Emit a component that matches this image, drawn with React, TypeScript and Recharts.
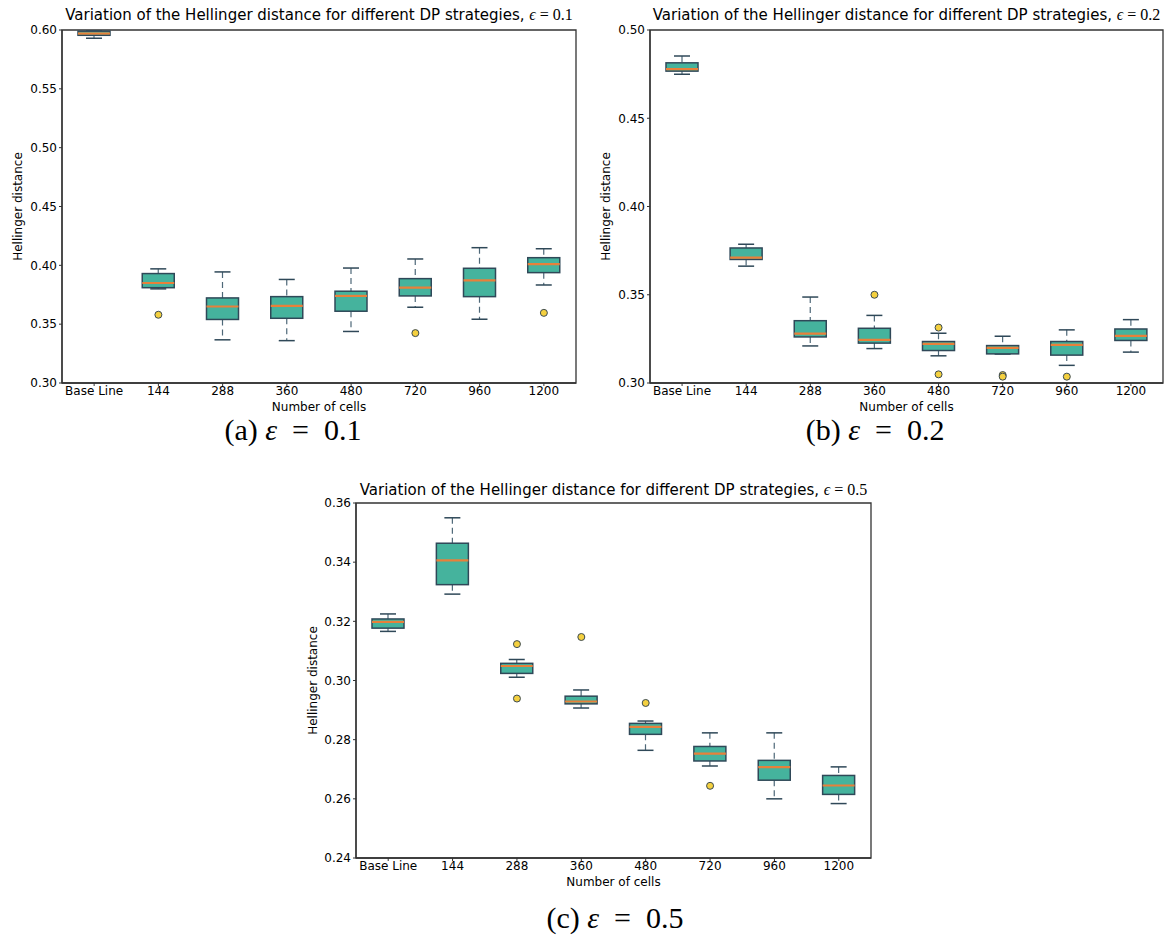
import { ComposedChart, Bar, Line, XAxis, YAxis, Label, ReferenceArea } from 'recharts'

const categories = ['Base Line', '144', '288', '360', '480', '720', '960', '1200']

// epsilon = 0.1
const lowA = [0.593, 0.38, 0.3367, 0.336, 0.3438, 0.3644, 0.3542, 0.3833]
const q1A = [0.5955, 0.381, 0.354, 0.355, 0.361, 0.374, 0.3734, 0.3938]
const medA = [0.597, 0.385, 0.365, 0.3655, 0.374, 0.381, 0.3873, 0.4011]
const q3A = [0.599, 0.393, 0.3723, 0.3734, 0.378, 0.3887, 0.3975, 0.4065]
const highA = [0.6, 0.397, 0.3944, 0.388, 0.3977, 0.4054, 0.415, 0.4141]
const outA = [[], [0.358], [], [], [], [0.3424], [], [0.3596]]
const ticksA = [0.3, 0.35, 0.4, 0.45, 0.5, 0.55, 0.6]

// epsilon = 0.2
const lowB = [0.475, 0.3662, 0.321, 0.3195, 0.3154, 0.3164, 0.31, 0.3175]
const q1B = [0.4767, 0.37, 0.3261, 0.3226, 0.3184, 0.3165, 0.3158, 0.3241]
const medB = [0.4778, 0.371, 0.328, 0.3244, 0.3222, 0.3199, 0.3216, 0.3267]
const q3B = [0.4814, 0.3765, 0.3353, 0.331, 0.3235, 0.3212, 0.3235, 0.3306]
const highB = [0.4853, 0.3786, 0.3487, 0.3383, 0.3282, 0.3265, 0.3301, 0.3359]
const outB = [[], [], [], [0.35], [0.3314, 0.3049], [0.3045, 0.3036], [0.3036], []]
const ticksB = [0.3, 0.35, 0.4, 0.45, 0.5]

// epsilon = 0.5
const lowC = [0.3166, 0.3292, 0.3011, 0.2907, 0.2764, 0.2711, 0.26, 0.2584]
const q1C = [0.3177, 0.3324, 0.3024, 0.2921, 0.2818, 0.2728, 0.2663, 0.2615]
const medC = [0.3198, 0.3406, 0.3049, 0.2929, 0.2843, 0.2753, 0.2707, 0.2645]
const q3C = [0.3208, 0.3464, 0.3058, 0.2947, 0.2855, 0.2777, 0.273, 0.2679]
const highC = [0.3225, 0.355, 0.3071, 0.2968, 0.2863, 0.2823, 0.2823, 0.2708]
const outC = [[], [], [0.3123, 0.2939], [0.3147], [0.2924], [0.2644], [], []]
const ticksC = [0.24, 0.26, 0.28, 0.3, 0.32, 0.34, 0.36]

const FILL = '#45b39d'
const EDGE = '#2f4858'
const WHISKER = '#4e6878'
const MEDIAN = '#e8803a'
const FLIER = '#f4d03f'
const AXIS = '#333'

const build = (low: number[], q1: number[], med: number[], q3: number[], high: number[], out: number[][]) =>
  categories.map((cat, i) => ({
    cat,
    lo: low[i],
    q1: q1[i],
    med: med[i],
    q3: q3[i],
    hi: high[i],
    o1: out[i][0] ?? null,
    o2: out[i][1] ?? null,
  }))

const BoxShape = (props: any) => {
  const { x, y, width, height, payload } = props
  const { lo, q1, med, q3, hi } = payload
  const top = Math.min(y, y + height)
  const h = Math.abs(height)
  const py = (v: number) => top + ((hi - v) / (hi - lo)) * h
  const cx = x + width / 2
  const cap = width / 4
  return (
    <g>
      <line x1={cx} x2={cx} y1={py(hi)} y2={py(q3)} stroke={WHISKER} strokeWidth={1.2} strokeDasharray="6 4" />
      <line x1={cx} x2={cx} y1={py(q1)} y2={py(lo)} stroke={WHISKER} strokeWidth={1.2} strokeDasharray="6 4" />
      <line x1={cx - cap} x2={cx + cap} y1={py(hi)} y2={py(hi)} stroke={EDGE} strokeWidth={1.5} />
      <line x1={cx - cap} x2={cx + cap} y1={py(lo)} y2={py(lo)} stroke={EDGE} strokeWidth={1.5} />
      <rect x={x} y={py(q3)} width={width} height={py(q1) - py(q3)} fill={FILL} stroke={EDGE} strokeWidth={1.5} />
      <line x1={x} x2={x + width} y1={py(med)} y2={py(med)} stroke={MEDIAN} strokeWidth={2.2} />
    </g>
  )
}

const tickStyle = { fontSize: 12, fill: '#000', fontFamily: 'DejaVu Sans' }

interface BoxChartProps {
  data: any[]
  ticks: number[]
  width: number
  height: number
  yLabelOffset: number
}

const BoxChart = ({ data, ticks, width, height, yLabelOffset }: BoxChartProps) => {
  const domain = [ticks[0], ticks[ticks.length - 1]]
  return (
    <ComposedChart width={width} height={height} data={data} margin={{ top: 30, right: 14, left: 0, bottom: 0 }}>
      <XAxis
        dataKey="cat"
        height={31}
        tick={tickStyle}
        tickSize={3}
        tickMargin={0}
        interval={0}
        axisLine={{ stroke: AXIS, strokeWidth: 1.3 }}
        tickLine={{ stroke: AXIS }}
      >
        <Label value="Number of cells" position="insideBottom" offset={3} style={{ fontSize: 12, fill: '#000', fontFamily: 'DejaVu Sans' }} />
      </XAxis>
      <YAxis
        width={62}
        domain={domain}
        ticks={ticks}
        allowDataOverflow
        tick={tickStyle}
        tickSize={3}
        tickMargin={2}
        tickFormatter={(v: number) => v.toFixed(2)}
        axisLine={{ stroke: AXIS, strokeWidth: 1.3 }}
        tickLine={{ stroke: AXIS }}
      >
        <Label
          value="Hellinger distance"
          angle={-90}
          position="insideLeft"
          offset={yLabelOffset}
          style={{ fontSize: 12, fill: '#000', fontFamily: 'DejaVu Sans', textAnchor: 'middle' }}
        />
      </YAxis>
      <ReferenceArea y1={domain[0]} y2={domain[1]} fill="none" fillOpacity={0} stroke={AXIS} strokeWidth={1.3} ifOverflow="visible" />
      <Bar dataKey={(d: any) => [d.lo, d.hi]} barSize={32} shape={<BoxShape />} isAnimationActive={false} />
      <Line dataKey="o1" stroke="none" dot={{ r: 3.5, fill: FLIER, stroke: '#3b4a52', strokeWidth: 1 }} activeDot={false} isAnimationActive={false} />
      <Line dataKey="o2" stroke="none" dot={{ r: 3.5, fill: FLIER, stroke: '#3b4a52', strokeWidth: 1 }} activeDot={false} isAnimationActive={false} />
    </ComposedChart>
  )
}

const Title = ({ left, top, width, eps }: { left: number; top: number; width: number; eps: string }) => (
  <div
    style={{
      position: 'absolute',
      left,
      top,
      width,
      textAlign: 'center',
      fontFamily: 'DejaVu Sans',
      fontSize: 15,
      whiteSpace: 'nowrap',
    }}
  >
    Variation of the Hellinger distance for different DP strategies,{' '}
    <span style={{ fontFamily: 'Liberation Serif', fontSize: 16 }}>
      <i>ϵ</i> = 0.{eps}
    </span>
  </div>
)

const Caption = ({ left, top, letter, eps }: { left: number; top: number; letter: string; eps: string }) => (
  <div
    style={{
      position: 'absolute',
      left: left - 100,
      top,
      width: 200,
      textAlign: 'center',
      fontFamily: 'Liberation Serif',
      fontSize: 30,
      lineHeight: '30px',
      whiteSpace: 'pre',
    }}
  >
    ({letter}) <i>ε</i>{'  =  '}0.{eps}
  </div>
)

const App = () => {
  const dataA = build(lowA, q1A, medA, q3A, highA, outA)
  const dataB = build(lowB, q1B, medB, q3B, highB, outB)
  const dataC = build(lowC, q1C, medC, q3C, highC, outC)
  return (
    <div style={{ position: 'absolute', left: 0, top: 0, width: 1164, height: 944, overflow: 'hidden', background: '#fff' }}>
      <div style={{ position: 'absolute', left: 0, top: 0 }}>
        <BoxChart data={dataA} ticks={ticksA} width={590} height={414} yLabelOffset={18} />
      </div>
      <div style={{ position: 'absolute', left: 588, top: 0 }}>
        <BoxChart data={dataB} ticks={ticksB} width={589} height={414} yLabelOffset={18} />
      </div>
      <div style={{ position: 'absolute', left: 294, top: 473 }}>
        <BoxChart data={dataC} ticks={ticksC} width={591} height={416} yLabelOffset={19} />
      </div>
      <Title left={62} top={6} width={514} eps="1" />
      <Title left={650} top={6} width={513} eps="2" />
      <Title left={356} top={481} width={515} eps="5" />
      <Caption left={293} top={415} letter="a" eps="1" />
      <Caption left={875} top={415} letter="b" eps="2" />
      <Caption left={615} top={903} letter="c" eps="5" />
    </div>
  )
}

export default App
